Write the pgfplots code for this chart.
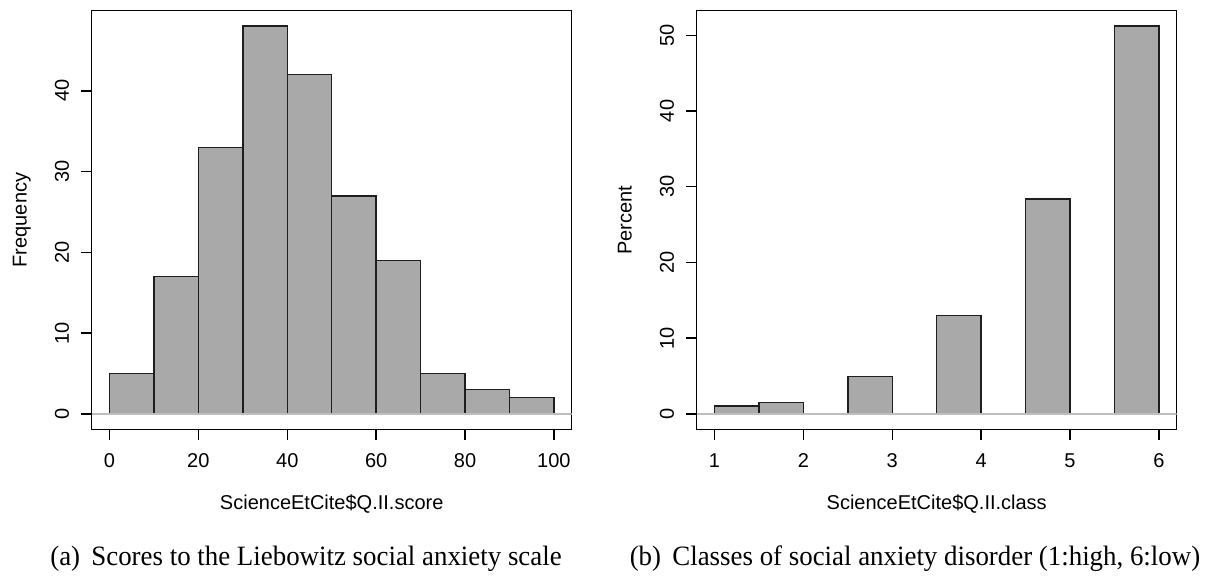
\documentclass[border=0pt]{standalone}
\usepackage{graphicx}
\usepackage{pgfplots}
\pgfplotsset{compat=1.18}
\usepackage{fontspec}
\setmainfont{Liberation Serif}
\setsansfont{Liberation Sans}

\definecolor{bargray}{RGB}{169,169,169}
\definecolor{zerogray}{RGB}{190,190,190}
\definecolor{edge}{RGB}{30,30,30}

% base-R look: boxed panel, outward ticks on left/bottom only, rotated y labels
\pgfplotsset{
  rpanel/.style={
    scale only axis, width=240pt, height=209.3pt,
    axis line style={line width=0.75pt, black},
    tick style={line width=0.75pt, black},
    tick align=outside, tick pos=left,
    major tick length=5.25pt,
    /pgf/number format/assume math mode=true,
    ticklabel style={font=\sffamily\fontsize{10}{12}\selectfont},
    label style={font=\sffamily\fontsize{10}{12}\selectfont},
    xticklabel style={anchor=base, inner sep=0pt},
    xticklabel shift=13.7pt,
    yticklabel style={rotate=90, anchor=base, inner sep=0pt},
    yticklabel shift=6.15pt,
    xlabel style={at={(axis description cs:0.5,-0.1906)}, anchor=base, inner sep=0pt},
    ylabel style={at={(axis description cs:-0.1354,0.5)}, anchor=base, inner sep=0pt},
  },
  rbars/.style={ybar, fill=bargray, draw=edge, line width=0.75pt},
}
\tikzset{
  subcap/.style={anchor=base, inner sep=0pt, font=\fontsize{14}{17}\selectfont},
}
% slightly condensed subfigure caption
\newcommand{\subcaptext}[1]{\scalebox{0.96}[1]{#1}}

\begin{document}
\begin{tikzpicture}
\useasboundingbox (0,0) rectangle (602.5pt,-288.5pt);

% (a) histogram of scores, bins of width 10
\begin{axis}[rpanel,
  at={(45.85pt,-5.35pt)}, anchor=north west,
  xmin=-4, xmax=104, ymin=-1.92, ymax=49.92,
  xtick={0,20,40,60,80,100}, ytick={0,10,20,30,40},
  xlabel={ScienceEtCite\$Q.II.score}, ylabel={Frequency}]
\addplot[rbars, bar width=10] coordinates {
  (5,5) (15,17) (25,33) (35,48) (45,42)
  (55,27) (65,19) (75,5) (85,3) (95,2)};
\addplot[zerogray, line width=0.75pt] coordinates {(-4,0) (104,0)};
\end{axis}

% (b) percentage per class
\begin{axis}[rpanel,
  at={(348.35pt,-5.35pt)}, anchor=north west,
  xmin=0.8, xmax=6.2, ymin=-2.048, ymax=53.248,
  xtick={1,2,3,4,5,6}, ytick={0,10,20,30,40,50},
  xlabel={ScienceEtCite\$Q.II.class}, ylabel={Percent}]
\addplot[rbars, bar width=0.5] coordinates {
  (1.25,1.0) (1.75,1.5) (2.75,4.9) (3.75,13.0) (4.75,28.4) (5.75,51.2)};
\addplot[zerogray, line width=0.75pt] coordinates {(0.8,0) (6.2,0)};
\end{axis}

\node[subcap] at (153pt,-282.5pt)
  {\subcaptext{(a)\hspace{0.42em}Scores to the Liebowitz social anxiety scale}};
\node[subcap] at (457.5pt,-282.5pt)
  {\subcaptext{(b)\hspace{0.42em}Classes of social anxiety disorder (1:high, 6:low)}};
\end{tikzpicture}
\end{document}
